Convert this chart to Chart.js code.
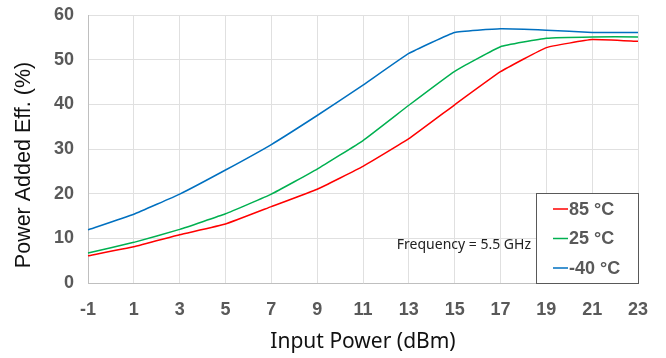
<!DOCTYPE html>
<html>
<head>
<meta charset="utf-8">
<script src="https://cdn.jsdelivr.net/npm/chart.js@4"></script>
<style>
  html, body { margin: 0; padding: 0; background: #fff; }
</style>
</head>
<body>
<canvas id="chart" width="666" height="358"></canvas>
<script>
// input power (dBm)
var inputPower = ['-1', '1', '3', '5', '7', '9', '11', '13', '15', '17', '19', '21', '23'];

// power added efficiency (%) per temperature
var pae85 = [6.1, 8.1, 10.8, 13.2, 17.1, 21.0, 26.1, 32.3, 39.9, 47.3, 52.7, 54.5, 54.1];
var pae25 = [6.7, 9.1, 12.0, 15.5, 19.9, 25.5, 31.9, 39.8, 47.4, 52.9, 54.8, 55.1, 55.1];
var paeM40 = [11.9, 15.4, 19.9, 25.3, 31.0, 37.5, 44.3, 51.4, 56.1, 56.9, 56.6, 56.1, 56.1];

var seriesNames = ['85 °C', '25 °C', '-40 °C'];
var seriesColors = ['#FF0000', '#00B050', '#0070C0'];
var yTicks = [0, 10, 20, 30, 40, 50, 60];

var tickFont = { family: 'Liberation Sans, Arial, sans-serif', size: 18, weight: 'bold' };

// legend box drawn inside the plot, bottom right, plus the notes
var boxLegend = {
	id: 'boxLegend',
	afterDraw: function(chart){
		var ctx = chart.ctx;
		var ca = chart.chartArea;
		var x0 = ca.right - 102, y0 = ca.bottom - 90;
		ctx.save();
		ctx.fillStyle = '#fff';
		ctx.fillRect(x0, y0, 102, 90);
		ctx.strokeStyle = '#595959';
		ctx.lineWidth = 1;
		ctx.strokeRect(x0 + 0.5, y0 + 0.5, 102, 90);
		ctx.font = 'bold 18px Liberation Sans, Arial, sans-serif';
		ctx.textBaseline = 'middle';
		chart.data.datasets.forEach(function(ds, i){
			var y = y0 + 16 + i * 29.5;
			ctx.strokeStyle = ds.borderColor;
			ctx.lineWidth = 1.5;
			ctx.beginPath();
			ctx.moveTo(x0 + 17, y);
			ctx.lineTo(x0 + 32, y);
			ctx.stroke();
			ctx.fillStyle = '#595959';
			ctx.fillText(ds.label, x0 + 33, y + 1);
		});
		// note
		ctx.font = '14px "Noto Sans", sans-serif';
		ctx.fillStyle = '#222';
		ctx.textAlign = 'right';
		ctx.fillText('Frequency = 5.5 GHz', x0 - 5, ca.bottom - 38);
		// y title (sits a bit below the plot centre, like the original)
		ctx.translate(24, 165);
		ctx.rotate(-Math.PI / 2);
		ctx.textAlign = 'center';
		ctx.font = '21.5px Liberation Sans, Arial, sans-serif';
		ctx.fillStyle = '#111';
		ctx.fillText('Power Added Eff. (%)', 0, 0);
		ctx.restore();
	}
};

var ctx = document.getElementById('chart').getContext('2d');
new Chart(ctx, {
	type: 'line',
	data: {
		labels: inputPower,
		datasets: [
			{ label: seriesNames[0], data: pae85, borderColor: seriesColors[0] },
			{ label: seriesNames[1], data: pae25, borderColor: seriesColors[1] },
			{ label: seriesNames[2], data: paeM40, borderColor: seriesColors[2] }
		].map(function(d){
			d.borderWidth = 1.5;
			d.pointRadius = 0;
			d.fill = false;
			d.tension = 0.1;
			return d;
		})
	},
	options: {
		responsive: false,
		animation: false,
		devicePixelRatio: 1,
		layout: { padding: { left: 0, right: 28, top: 15, bottom: 0 } },
		plugins: { legend: { display: false }, tooltip: { enabled: false } },
		scales: {
			x: {
				offset: false,
				grid: { color: '#E0E0E0', drawTicks: false },
				border: { color: '#BFBFBF' },
				ticks: { color: '#595959', font: tickFont, padding: 16, maxRotation: 0, autoSkip: false },
				title: { display: true, text: 'Input Power (dBm)', color: '#111',
					font: { family: '"Noto Sans", sans-serif', size: 21 }, padding: { top: 0, bottom: 3 } },
				afterFit: function(s){ s.height = 75; }
			},
			y: {
				min: 0, max: 60,
				afterBuildTicks: function(s){ s.ticks = yTicks.map(function(v){ return { value: v }; }); },
				grid: { color: '#E0E0E0', drawTicks: false },
				border: { color: '#BFBFBF' },
				ticks: { color: '#595959', font: tickFont, padding: 14 },
				title: { display: false },
				afterFit: function(s){ s.width = 88; s.paddingTop = 0; s.paddingBottom = 0; }
			}
		}
	},
	plugins: [boxLegend]
});
</script>
</body>
</html>
